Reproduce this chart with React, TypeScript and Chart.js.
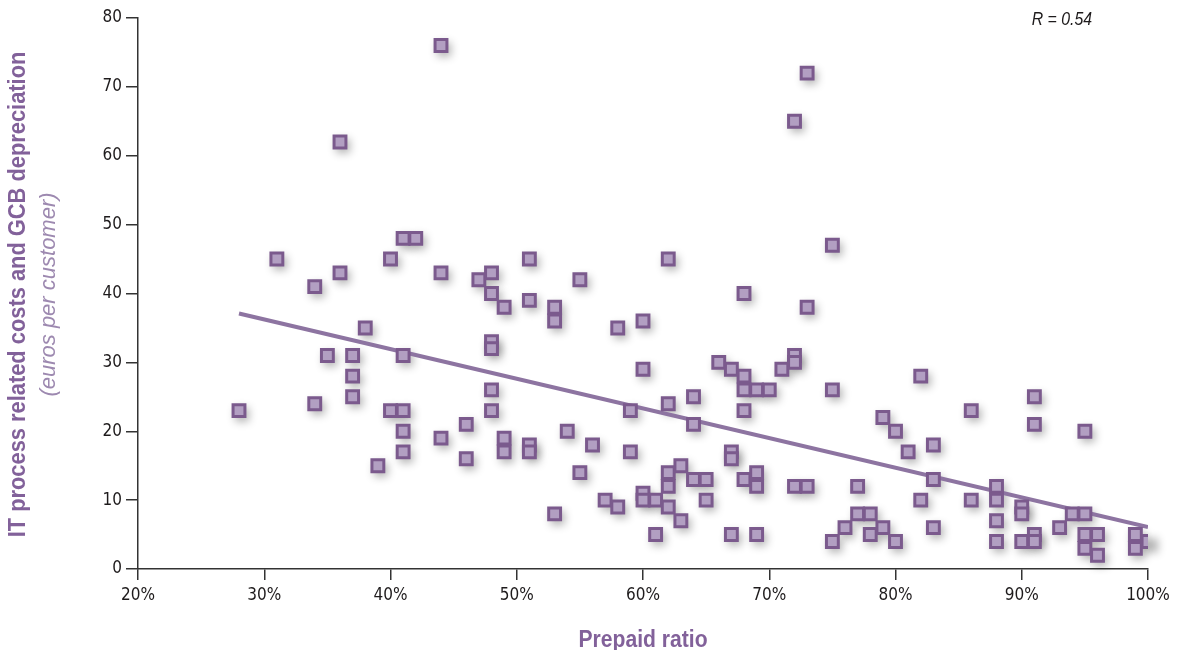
import React, { useEffect, useRef } from "react";
import { Chart, registerables } from "chart.js";

Chart.register(...registerables);

// Prepaid ratio (%) for each operator
const prepaidRatio: number[] = [
  28, 31, 34, 34, 35, 36, 36, 37, 37, 37,
  38, 39, 40, 40, 41, 41, 41, 41, 41, 42,
  44, 44, 44, 46, 46, 47, 48, 48, 48, 48,
  48, 48, 49, 49, 49, 51, 51, 51, 51, 53,
  53, 53, 54, 55, 55, 56, 57, 58, 58, 59,
  59, 60, 60, 60, 60, 61, 61, 62, 62, 62,
  62, 62, 63, 63, 64, 64, 64, 65, 65, 66,
  67, 67, 67, 67, 68, 68, 68, 68, 68, 69,
  69, 69, 69, 70, 71, 72, 72, 72, 72, 73,
  73, 73, 75, 75, 75, 76, 77, 77, 78, 78,
  79, 79, 80, 80, 81, 82, 82, 83, 83, 83,
  86, 86, 88, 88, 88, 88, 90, 90, 90, 91,
  91, 91, 91, 93, 94, 95, 95, 95, 95, 96,
  96, 99, 99, 100,
];

// IT process related costs and GCB depreciation (euros per customer)
const itCost: number[] = [
  23, 45, 41, 24, 31, 62, 43, 31, 28, 25,
  35, 15, 45, 23, 48, 31, 23, 20, 17, 48,
  76, 43, 19, 21, 16, 42, 43, 40, 33, 32,
  26, 23, 38, 19, 17, 45, 39, 18, 17, 38,
  36, 8, 20, 42, 14, 18, 10, 35, 9, 23,
  17, 36, 29, 11, 10, 10, 5, 45, 24, 14,
  12, 9, 15, 7, 25, 21, 13, 13, 10, 30,
  29, 17, 16, 5, 40, 28, 26, 23, 13, 26,
  14, 12, 5, 26, 29, 65, 31, 30, 12, 72,
  38, 12, 47, 26, 4, 6, 12, 8, 8, 5,
  22, 6, 20, 4, 17, 28, 10, 18, 13, 6,
  23, 10, 12, 10, 7, 4, 9, 8, 4, 25,
  21, 5, 4, 6, 8, 20, 8, 5, 3, 5,
  2, 5, 3, 4,
];

// Regression line end points
const trendX: number[] = [28, 100];
const trendY: number[] = [37.1, 6.1];

const correlationLabel = "R = 0.54";
const yTitle = "IT process related costs and GCB depreciation";
const ySubtitle = "(euros per customer)";
const xTitle = "Prepaid ratio";

const TICK_FONT = "'DejaVu Sans Condensed', 'Liberation Sans', sans-serif";
const TEXT_FONT = "'Liberation Sans', Arial, sans-serif";
const TICK_COLOR = "#1e1b1c";
const MARKER_FILL = "#b29fc2";
const MARKER_BORDER = "#7b5a8d";
const LINE_COLOR = "#8d74a1";
const TITLE_COLOR = "#82619a";
const SUBTITLE_COLOR = "#9d89b0";

const shadowPlugin = {
  id: "markerShadow",
  beforeDatasetsDraw(chart: any) {
    const meta = chart.getDatasetMeta(0);
    const ctx = chart.ctx;
    ctx.save();
    const off = 10000;
    ctx.shadowColor = "rgba(0,0,0,0.3)";
    ctx.shadowBlur = 8;
    ctx.shadowOffsetX = off + 3;
    ctx.shadowOffsetY = 4;
    ctx.fillStyle = "#000";
    meta.data.forEach((pt: any) => {
      const s = 14;
      ctx.fillRect(pt.x - s / 2 - off, pt.y - s / 2, s, s);
    });
    ctx.restore();
  },
};

function drawCondensed(
  ctx: CanvasRenderingContext2D,
  text: string,
  x: number,
  y: number,
  rotation: number,
  squeeze: number,
  font: string,
  color: string,
  align: CanvasTextAlign
) {
  ctx.save();
  ctx.translate(x, y);
  ctx.rotate(rotation);
  ctx.scale(squeeze, 1);
  ctx.font = font;
  ctx.fillStyle = color;
  ctx.textAlign = align;
  ctx.textBaseline = "alphabetic";
  ctx.fillText(text, 0, 0);
  ctx.restore();
}

const textPlugin = {
  id: "customTexts",
  afterDraw(chart: any) {
    const ctx = chart.ctx as CanvasRenderingContext2D;
    const area = chart.chartArea;
    const midY = (area.top + area.bottom) / 2 + 1;
    drawCondensed(ctx, yTitle, 25, midY, -Math.PI / 2, 0.95, `bold 23px ${TEXT_FONT}`, TITLE_COLOR, "center");
    drawCondensed(ctx, ySubtitle, 55, midY, -Math.PI / 2, 1.0, `italic 22px ${TEXT_FONT}`, SUBTITLE_COLOR, "center");
    drawCondensed(ctx, xTitle, (area.left + area.right) / 2, 647, 0, 0.88, `bold 24px ${TEXT_FONT}`, TITLE_COLOR, "center");
    drawCondensed(ctx, correlationLabel, 1092, 25, 0, 0.88, `italic 18px ${TEXT_FONT}`, TICK_COLOR, "right");
  },
};

export default function App() {
  const canvasRef = useRef<HTMLCanvasElement | null>(null);

  useEffect(() => {
    if (!canvasRef.current) return;
    const points = prepaidRatio.map((x, i) => ({ x, y: itCost[i] }));
    const trend = trendX.map((x, i) => ({ x, y: trendY[i] }));

    const chart = new Chart(canvasRef.current, {
      type: "scatter",
      data: {
        datasets: [
          {
            label: "Operators",
            data: points,
            pointStyle: "rect",
            pointRadius: 8.4,
            pointHoverRadius: 8.4,
            pointBackgroundColor: MARKER_FILL,
            pointBorderColor: MARKER_BORDER,
            pointBorderWidth: 3,
            order: 1,
          },
          {
            type: "line",
            label: "Trend",
            data: trend,
            borderColor: LINE_COLOR,
            borderWidth: 4,
            pointRadius: 0,
            fill: false,
            order: 2,
          } as any,
        ],
      },
      options: {
        animation: false,
        responsive: true,
        maintainAspectRatio: false,
        layout: { padding: { top: 18, right: 30, left: 0, bottom: 0 } },
        plugins: {
          legend: { display: false },
          tooltip: { enabled: false },
        },
        scales: {
          x: {
            type: "linear",
            min: 20,
            max: 100,
            border: { display: true, color: "#333", width: 1.5 },
            grid: {
              drawOnChartArea: false,
              drawTicks: true,
              tickLength: 11,
              color: "#333",
              lineWidth: 1.5,
            },
            ticks: {
              stepSize: 10,
              padding: 5,
              color: TICK_COLOR,
              font: { family: TICK_FONT, size: 17 },
              callback: (v: any) => `${v}%`,
            },
            afterFit: (scale: any) => {
              scale.height = 81;
              scale.paddingLeft = 0;
              scale.paddingRight = 0;
            },
          },
          y: {
            type: "linear",
            min: 0,
            max: 80,
            border: { display: true, color: "#333", width: 1.5 },
            grid: {
              drawOnChartArea: false,
              drawTicks: true,
              tickLength: 12,
              color: "#333",
              lineWidth: 1.5,
            },
            ticks: {
              stepSize: 10,
              padding: 4,
              color: TICK_COLOR,
              font: { family: TICK_FONT, size: 17 },
            },
            afterFit: (scale: any) => {
              scale.width = 138;
              scale.paddingTop = 0;
              scale.paddingBottom = 0;
            },
          },
        },
      },
      plugins: [shadowPlugin, textPlugin],
    });
    return () => chart.destroy();
  }, []);

  return (
    <div style={{ position: "absolute", left: 0, top: 0, width: "1178px", height: "650px" }}>
      <canvas ref={canvasRef} />
    </div>
  );
}
